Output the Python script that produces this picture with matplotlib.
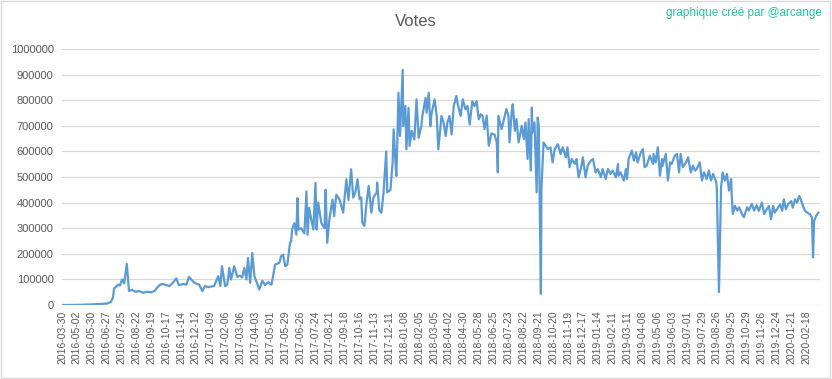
import matplotlib.pyplot as plt
import numpy as np

plt.rcParams['font.family'] = ['Liberation Sans', 'DejaVu Sans']

# index du jour (position dans la série) et nombre de votes
day = [0, 13, 32, 51, 70, 85, 92, 96, 98, 102, 106, 109, 113, 117, 122, 126, 132, 138, 145, 153,
       160, 168, 175, 179, 185, 190, 196, 202, 209, 215, 220, 228, 234, 239, 245, 251, 258, 264, 269, 275,
       279, 286, 294, 298, 301, 307, 311, 315, 318, 324, 330, 335, 339, 343, 347, 350, 354, 358, 362, 367,
       371, 377, 382, 388, 394, 396, 401, 409, 412, 416, 420, 424, 429, 431, 433, 437, 441, 443, 445, 450,
       456, 460, 462, 465, 469, 473, 477, 479, 482, 488, 494, 496, 499, 503, 509, 512, 516, 522, 529, 535,
       539, 544, 548, 552, 556, 560, 563, 565, 569, 573, 577, 582, 586, 592, 593, 597, 601, 605, 610, 612,
       618, 622, 624, 627, 629, 631, 633, 636, 641, 642, 646, 648, 652, 654, 658, 663, 667, 671, 676, 678,
       684, 686, 690, 693, 695, 701, 705, 708, 714, 718, 722, 725, 729, 733, 737, 742, 744, 750, 754, 759,
       763, 767, 772, 776, 780, 784, 788, 791, 795, 799, 803, 808, 814, 818, 820, 821, 827, 831, 836, 840,
       842, 846, 848, 852, 855, 859, 865, 869, 872, 876, 878, 882, 884, 885, 889, 893, 895, 897, 901, 902,
       906, 910, 914, 919, 923, 927, 933, 938, 942, 948, 951, 955, 959, 965, 968, 972, 976, 980, 985, 989,
       995, 999, 1004, 1008, 1014, 1017, 1023, 1027, 1032, 1036, 1042, 1046, 1047, 1051, 1057, 1061, 1063, 1066, 1072, 1076,
       1080, 1083, 1089, 1093, 1096, 1100, 1106, 1112, 1113, 1117, 1121, 1125, 1129, 1130, 1136, 1140, 1144, 1147, 1153, 1157,
       1161, 1164, 1168, 1174, 1178, 1183, 1187, 1191, 1194, 1200, 1204, 1208, 1213, 1217, 1221, 1225, 1231, 1232, 1236, 1240,
       1243, 1247, 1251, 1255, 1259, 1260, 1262, 1266, 1270, 1274, 1279, 1283, 1289, 1292, 1298, 1302, 1307, 1311, 1317, 1321,
       1326, 1330, 1334, 1338, 1341, 1345, 1351, 1355, 1358, 1362, 1366, 1372, 1375, 1379, 1383, 1387, 1390, 1394, 1398, 1402,
       1407, 1411, 1413, 1415, 1419, 1423]

votes = [200, 500, 1000, 2500, 4000, 6000, 12000, 30000, 65000, 72000, 80000, 76000, 100000, 85000, 161000, 55000, 60000, 52000, 55000, 48000,
         52000, 50000, 56000, 68000, 80000, 82000, 78000, 74000, 88000, 104000, 78000, 82000, 80000, 110000, 95000, 85000, 80000, 55000, 74000, 70000,
         72000, 74000, 113000, 74000, 152000, 74000, 80000, 145000, 100000, 152000, 110000, 115000, 108000, 145000, 100000, 184000, 87000, 204000, 113000, 85000,
         61000, 95000, 78000, 90000, 80000, 100000, 158000, 165000, 190000, 197000, 152000, 158000, 243000, 249000, 295000, 320000, 275000, 418000, 295000, 300000,
         280000, 444000, 275000, 380000, 334000, 295000, 477000, 295000, 400000, 320000, 300000, 450000, 243000, 334000, 412000, 347000, 431000, 413000, 361000, 491000,
         410000, 530000, 420000, 440000, 491000, 413000, 420000, 322000, 309000, 400000, 465000, 361000, 420000, 440000, 478000, 370000, 360000, 440000, 600000, 440000,
         450000, 556000, 686000, 570000, 504000, 647000, 829000, 660000, 918000, 699000, 777000, 608000, 770000, 621000, 680000, 647000, 803000, 653000, 699000, 738000,
         809000, 751000, 829000, 699000, 744000, 803000, 738000, 608000, 738000, 712000, 660000, 712000, 738000, 666000, 777000, 816000, 790000, 738000, 803000, 764000,
         777000, 705000, 796000, 777000, 796000, 725000, 745000, 740000, 687000, 739000, 622000, 670000, 665000, 635000, 518000, 739000, 687000, 720000, 765000, 739000,
         635000, 752000, 784000, 680000, 726000, 635000, 700000, 648000, 713000, 570000, 726000, 525000, 771000, 674000, 713000, 440000, 732000, 700000, 44000, 453000,
         635000, 622000, 609000, 616000, 557000, 609000, 628000, 590000, 616000, 577000, 616000, 538000, 570000, 551000, 570000, 499000, 531000, 577000, 499000, 544000,
         564000, 570000, 518000, 531000, 499000, 531000, 492000, 531000, 512000, 525000, 499000, 551000, 505000, 518000, 486000, 531000, 492000, 570000, 603000, 564000,
         596000, 557000, 596000, 609000, 538000, 544000, 583000, 551000, 590000, 557000, 616000, 505000, 570000, 544000, 590000, 486000, 557000, 551000, 583000, 590000,
         518000, 590000, 538000, 557000, 577000, 518000, 544000, 525000, 531000, 557000, 486000, 518000, 492000, 525000, 486000, 512000, 479000, 453000, 51000, 460000,
         518000, 486000, 512000, 447000, 492000, 427000, 356000, 388000, 369000, 382000, 356000, 343000, 382000, 369000, 395000, 369000, 390000, 368000, 400000, 355000,
         374000, 387000, 335000, 387000, 361000, 374000, 393000, 368000, 413000, 374000, 393000, 406000, 380000, 413000, 400000, 426000, 413000, 387000, 368000, 361000,
         355000, 342000, 186000, 329000, 348000, 361000]

tick_labels = ['2016-03-30', '2016-05-02', '2016-05-30', '2016-06-27', '2016-07-25', '2016-08-22',
               '2016-09-19', '2016-10-17', '2016-11-14', '2016-12-12', '2017-01-09', '2017-02-06',
               '2017-03-06', '2017-04-03', '2017-05-01', '2017-05-29', '2017-06-26', '2017-07-24',
               '2017-08-21', '2017-09-18', '2017-10-16', '2017-11-13', '2017-12-11', '2018-01-08',
               '2018-02-05', '2018-03-05', '2018-04-02', '2018-04-30', '2018-05-28', '2018-06-25',
               '2018-07-23', '2018-08-22', '2018-09-21', '2018-10-20', '2018-11-19', '2018-12-17',
               '2019-01-14', '2019-02-11', '2019-03-11', '2019-04-08', '2019-05-06', '2019-06-03',
               '2019-07-01', '2019-07-29', '2019-08-26', '2019-09-25', '2019-10-29', '2019-11-26',
               '2019-12-24', '2020-01-21', '2020-02-18']

text_grey = '#595959'

fig = plt.figure(figsize=(8.32, 3.79), dpi=100)
ax = fig.add_axes([0.0745, 0.195, 0.911, 0.676])

ax.plot(day, votes, color='#5b9bd5', linewidth=1.6, solid_joinstyle='round')

ax.set_ylim(0, 1000000)
ax.set_xlim(0, 1426)
ax.set_yticks(np.arange(0, 1000001, 100000))
ax.set_yticklabels([str(v) for v in range(0, 1000001, 100000)], fontsize=8, color=text_grey)
ax.set_xticks(np.arange(0, 28 * len(tick_labels), 28))
ax.set_xticklabels(tick_labels, rotation=90, fontsize=7.5, color=text_grey)
ax.tick_params(axis='both', length=0, pad=6)
ax.tick_params(axis='x', pad=4)

ax.grid(axis='y', color='#d9d9d9', linewidth=0.9)
ax.set_axisbelow(True)
for s in ax.spines.values():
    s.set_visible(False)

fig.text(0.5, 0.942, 'Votes', ha='center', va='center', fontsize=12, color=text_grey)
fig.text(0.988, 0.965, 'graphique créé par @arcange', ha='right', va='center',
         fontsize=8.5, color='#1fc9a0')

# cadre du graphique
fig.patches.append(plt.Rectangle((0.001, 0.002), 0.997, 0.996, transform=fig.transFigure,
                                 fill=False, edgecolor='#d9d9d9', linewidth=1))

fig.savefig('out.png', dpi=100)
